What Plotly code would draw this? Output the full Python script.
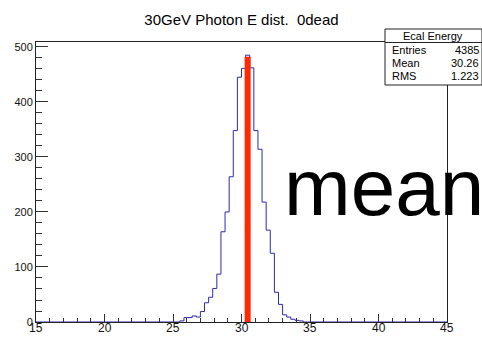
import numpy as np
import plotly.graph_objects as go

# ---- data ----
title_text = "30GeV Photon E dist.  0dead"
x_range = [15, 45]
y_range = [0, 509]
bin_width = 0.3
first_bin_low = 25.5
counts = [2, 8, 8, 11, 9, 19, 35, 45, 61, 87, 164, 200, 264, 348, 445,
          461, 485, 462, 348, 314, 218, 167, 125, 54, 32, 13, 9, 5, 3, 2]
mean_line_x = 30.45
mean_line_top = 482
stats_title = "Ecal Energy"
stats_labels = ["Entries", "Mean", "RMS"]
stats_values = ["4385", "30.26", "1.223"]
x_ticks = [15, 20, 25, 30, 35, 40, 45]
y_ticks = [0, 100, 200, 300, 400, 500]

# ---- layout geometry ----
W, H = 482, 337
L, R, T, B = 36, 447, 42, 322
FONT = "Liberation Sans, Arial, Helvetica, sans-serif"


def px(xp):
    return (xp - L) / (R - L)


def py(yp):
    return (B - yp) / (B - T)


edges = first_bin_low + bin_width * np.arange(len(counts) + 1)
hx = [x_range[0]] + list(edges) + [x_range[1]]
hy = [0] + list(counts) + [0, 0]

fig = go.Figure()
fig.add_trace(go.Scatter(x=hx, y=hy, mode="lines", line=dict(shape="hv", color="#2a2ab4", width=1),
                         hoverinfo="skip", showlegend=False))
fig.add_trace(go.Scatter(x=[mean_line_x, mean_line_x], y=[0, mean_line_top], mode="lines",
                         line=dict(color="#ff2a00", width=6), showlegend=False))

axis_common = dict(showgrid=False, zeroline=False, showline=True, linecolor="#222", linewidth=1,
                   mirror=True, ticks="inside", tickcolor="#333", tickwidth=1, automargin=False)
fig.update_xaxes(range=x_range, tickvals=x_ticks, ticklen=8, showticklabels=False,
                 minor=dict(dtick=1, tick0=15, ticklen=4, ticks="inside", tickcolor="#333"),
                 **axis_common)
fig.update_yaxes(range=y_range, tickvals=y_ticks, ticklen=12, tickfont=dict(size=11, family=FONT, color="#111"),
                 minor=dict(dtick=20, tick0=0, ticklen=6, ticks="inside", tickcolor="#333"),
                 **axis_common)

shapes = [
    dict(type="rect", xref="paper", yref="paper", x0=px(385), x1=px(482), y0=py(85), y1=py(29),
         fillcolor="white", line=dict(color="#222", width=1), layer="above"),
    dict(type="line", xref="paper", yref="paper", x0=px(385), x1=px(482), y0=py(42.5), y1=py(42.5),
         line=dict(color="#222", width=1), layer="above"),
]

annotations = [
    dict(text=stats_title, xref="paper", yref="paper", x=px(433), y=py(36), xanchor="center",
         yanchor="middle", showarrow=False, font=dict(size=11, family=FONT, color="black")),
    dict(text="mean", xref="paper", yref="paper", x=px(282), y=py(188), xanchor="left",
         yanchor="middle", showarrow=False, font=dict(size=80, family=FONT, color="black")),
]
for tv in x_ticks:
    annotations.append(dict(text=str(tv), xref="x", yref="paper", x=tv, y=py(328), xanchor="center",
                            yanchor="middle", showarrow=False, font=dict(size=12, family=FONT, color="#111")))
row_y = [50, 63, 76]
for lab, val, yy in zip(stats_labels, stats_values, row_y):
    annotations.append(dict(text=lab, xref="paper", yref="paper", x=px(390), y=py(yy), xanchor="left",
                            yanchor="middle", showarrow=False, font=dict(size=11, family=FONT, color="black")))
    annotations.append(dict(text=val, xref="paper", yref="paper", x=px(481), y=py(yy), xanchor="right",
                            yanchor="middle", showarrow=False, font=dict(size=11, family=FONT, color="black")))

fig.update_layout(
    width=W, height=H,
    margin=dict(l=L, r=W - R, t=T, b=H - B, pad=0, autoexpand=False),
    paper_bgcolor="white", plot_bgcolor="white",
    title=dict(text=title_text, x=0.5, xanchor="center", xref="paper", y=1 - 20 / H, yanchor="middle",
               font=dict(size=15, family=FONT, color="black"), automargin=False),
    shapes=shapes, annotations=annotations, showlegend=False,
)

fig.write_html("out.html")
